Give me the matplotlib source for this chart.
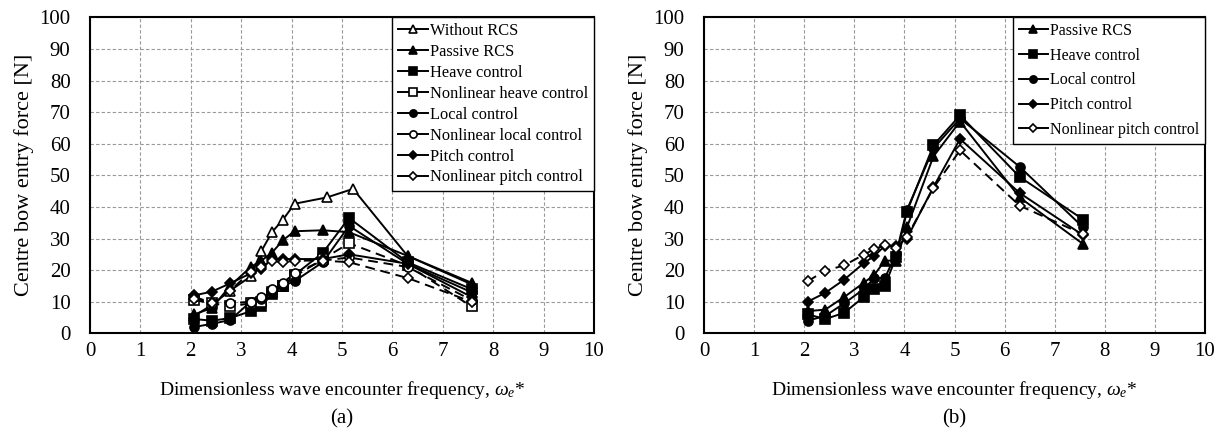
import matplotlib
matplotlib.use("Agg")
import matplotlib.pyplot as plt

plt.rcParams['font.family'] = ['Liberation Serif', 'DejaVu Serif']
plt.rcParams['mathtext.fontset'] = 'custom'
plt.rcParams['mathtext.rm'] = 'Liberation Serif'
plt.rcParams['mathtext.it'] = 'Liberation Serif:italic'

# ---- data panel (a) ----
x_a = [2.07, 2.42, 2.78, 3.19, 3.40, 3.61, 3.83, 4.06, 4.62, 5.14, 6.30, 7.57]
x_a_without = [2.07, 2.42, 2.78, 3.19, 3.40, 3.61, 3.83, 4.06, 4.70, 5.22, 6.30, 7.57]
a_without = [5.5, 9.0, 13.5, 18.0, 26.0, 32.0, 36.0, 41.0, 43.0, 45.7, 24.5, 15.5]
a_passive = [6.0, 8.0, 15.0, 21.0, 23.0, 25.5, 29.5, 32.3, 32.6, 32.0, 24.5, 16.0]
a_heave = [4.5, 4.0, 4.8, 7.0, 8.5, 12.5, 15.0, 18.5, 25.5, 36.5, 22.5, 14.0]
a_nl_heave = [10.5, 9.5, 8.5, 9.5, 10.0, 13.0, 15.0, 18.0, 23.5, 28.5, 21.5, 8.5]
a_local = [2.0, 3.0, 4.2, 10.0, 11.0, 13.0, 15.0, 16.5, 22.5, 34.0, 22.0, 13.0]
a_nl_local = [11.5, 9.7, 9.5, 10.0, 11.5, 14.0, 16.0, 19.0, 23.0, 24.0, 21.0, 10.5]
a_pitch = [12.0, 13.2, 15.8, 19.0, 20.5, 23.5, 23.5, 23.5, 23.5, 25.0, 22.0, 11.5]
a_nl_pitch = [11.0, 9.5, 13.5, 19.5, 21.0, 23.0, 22.5, 23.0, 23.0, 22.5, 17.5, 10.0]

# ---- data panel (b) ----
x_b = [2.07, 2.42, 2.80, 3.19, 3.40, 3.61, 3.83, 4.05, 4.58, 5.11, 6.30, 7.57]
b_passive = [7.0, 7.5, 11.5, 16.0, 18.5, 23.0, 23.0, 33.5, 56.0, 67.0, 43.0, 28.2]
b_heave = [6.0, 4.5, 6.5, 11.5, 14.0, 15.0, 24.0, 38.5, 59.5, 69.0, 49.5, 36.0]
b_local = [4.0, 5.5, 9.5, 14.0, 17.5, 17.5, 25.0, 39.0, 58.5, 68.0, 52.7, 33.5]
b_pitch = [10.0, 12.8, 17.0, 22.2, 24.5, 27.7, 27.5, 30.0, 46.3, 61.5, 44.4, 31.0]
b_nl_pitch = [16.5, 19.8, 21.5, 24.9, 26.6, 27.9, 27.0, 30.5, 46.0, 57.9, 40.4, 31.3]

xticks = list(range(0, 11))
yticks = list(range(0, 101, 10))

fig = plt.figure(figsize=(12.27, 4.37), dpi=100)
ax1 = fig.add_axes([90/1227, 1-333.3/437, 504/1227, 316/437])
ax2 = fig.add_axes([704/1227, 1-333.3/437, 501/1227, 316/437])

def style(m, filled, dashed=False):
    return dict(color='black', lw=1.4, marker=m, markersize=6.5,
                markerfacecolor='black' if filled else 'white',
                markeredgecolor='black', markeredgewidth=1.2,
                linestyle=(0, (5, 3)) if dashed else '-')

series_a = [
    (x_a_without, a_without, 'Without RCS', '^', False, False),
    (x_a, a_passive, 'Passive RCS', '^', True, False),
    (x_a, a_heave, 'Heave control', 's', True, False),
    (x_a, a_nl_heave, 'Nonlinear heave control', 's', False, True),
    (x_a, a_local, 'Local control', 'o', True, False),
    (x_a, a_nl_local, 'Nonlinear local control', 'o', False, True),
    (x_a, a_pitch, 'Pitch control', 'D', True, False),
    (x_a, a_nl_pitch, 'Nonlinear pitch control', 'D', False, True),
]
series_b = [
    (x_b, b_passive, 'Passive RCS', '^', True, False),
    (x_b, b_heave, 'Heave control', 's', True, False),
    (x_b, b_local, 'Local control', 'o', True, False),
    (x_b, b_pitch, 'Pitch control', 'D', True, False),
    (x_b, b_nl_pitch, 'Nonlinear pitch control', 'D', False, True),
]

for ax, series, lab, fs, lsp in [(ax1, series_a, '(a)', 11.8, 0.3), (ax2, series_b, '(b)', 11.5, 0.55)]:
    handles = []
    for xs, ys, name, m, filled, dashed in series:
        st = style(m, filled, dashed)
        if m == 'D':
            st['markersize'] = 5.5
        ax.plot(xs, ys, **st)
        hs = dict(st)
        hs['linestyle'] = '-'
        h, = ax.plot([], [], label=name, **hs)
        handles.append(h)
    ax.set_xlim(0, 10)
    ax.set_ylim(0, 100)
    ax.set_xticks(xticks)
    ax.set_yticks(yticks)
    ax.tick_params(length=0, labelsize=15)
    ax.tick_params(axis='x', pad=6)
    ax.tick_params(axis='y', pad=14)
    ax.grid(True, color='#999999', linestyle=(0, (3, 2)), lw=0.8)
    ax.set_axisbelow(True)
    for s in ax.spines.values():
        s.set_linewidth(1.5)
        s.set_color('black')
    ax.set_ylabel('Centre bow entry force [N]', fontsize=16, labelpad=4)
    ax.set_xlabel(r'Dimensionless wave encounter frequency, $\mathit{\omega_e}$*', fontsize=14, labelpad=13)
    ax.text(0.5, -0.27, lab, transform=ax.transAxes, ha='center', va='center', fontsize=15)
    leg = ax.legend(handles=handles, loc='upper right', fontsize=fs, frameon=True, fancybox=False,
                    edgecolor='black', framealpha=1, borderaxespad=0, handlelength=1.8,
                    handletextpad=0.15, labelspacing=lsp, borderpad=0.35, markerscale=0.8)
    leg.get_frame().set_linewidth(1.0)

fig.savefig('out.png', dpi=100, facecolor='white')
